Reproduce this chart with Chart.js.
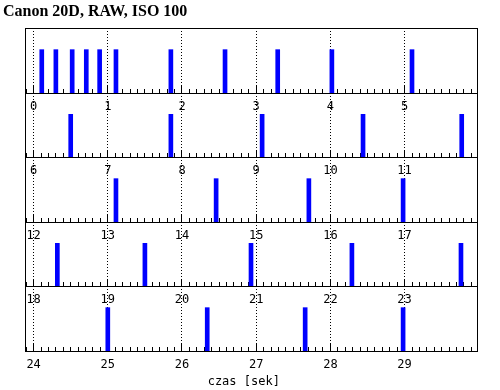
<!DOCTYPE html>
<html>
<head>
<meta charset="utf-8">
<script src="https://cdn.jsdelivr.net/npm/chart.js@4.4.1/dist/chart.umd.min.js"></script>
<style>
  html, body { margin: 0; padding: 0; background: #fff; }
  #wrap { position: relative; width: 500px; height: 390px; overflow: hidden; }
  #wrap canvas { position: absolute; left: 0; }
</style>
</head>
<body>
<div id="wrap"></div>
<script>
// seconds at which each frame was saved
const frameTimes = [
    0.11, 0.30, 0.52, 0.71, 0.89, 1.11, 1.85, 2.58, 3.29, 4.02, 5.10,
    6.50, 7.85, 9.08, 10.44, 11.77,
    13.11, 14.46, 15.71, 16.98,
    18.32, 19.50, 20.93, 22.29, 23.76,
    25.00, 26.34, 27.66, 28.98
];
const markHeight = 1;                  // all marks are the same height
const rowStarts = [0, 6, 12, 18, 24];  // first second of each strip
const titleText = "Canon 20D, RAW, ISO 100";
const axisTitle = "czas [sek]";

// layout
const W = 500, H = 390;
const plotTop = 28, rowH = 64.6;
const leftW = 25, rightW = 23;
const xRange = [-0.116, 5.976];   // visible window relative to row start
const labelH = 24;

const isWhole = v => Math.abs(v - Math.round(v)) < 1e-6;
const monoFont = { family: "'DejaVu Sans Mono', monospace", size: 12 };

// taller solid tick at every whole second
const majorTicks = {
    id: "majorTicks",
    beforeDatasetsDraw(chart) {
        const sc = chart.scales.x, ctx = chart.ctx;
        ctx.save();
        ctx.strokeStyle = "#000";
        ctx.lineWidth = 1;
        sc.ticks.forEach(t => {
            if (!isWhole(t.value)) return;
            const px = Math.round(sc.getPixelForValue(t.value) - 0.5) + 0.5;
            ctx.beginPath();
            ctx.moveTo(px, sc.top);
            ctx.lineTo(px, sc.top - 7);
            ctx.stroke();
        });
        ctx.restore();
    }
};

function makeRow(i) {
    const start = rowStarts[i];
    const first = i === 0, last = i === rowStarts.length - 1;
    const top = Math.round(plotTop + i * rowH);
    const bottom = Math.round(plotTop + (i + 1) * rowH);
    const canvasTop = first ? 0 : top;
    const axisH = last ? H - bottom : labelH;

    const cv = document.createElement("canvas");
    cv.width = W;
    cv.height = bottom - canvasTop + axisH;
    cv.style.top = canvasTop + "px";
    document.getElementById("wrap").appendChild(cv);

    const points = frameTimes
        .filter(t => t >= start && t < start + 6)
        .map(t => ({ x: t, y: markHeight }));

    const scales = {
        x: {
            type: "linear",
            position: "bottom",
            offset: false,
            min: start + xRange[0],
            max: start + xRange[1],
            afterFit: s => { s.height = axisH; },
            ticks: {
                stepSize: 0.1,
                includeBounds: false,
                autoSkip: false,
                maxRotation: 0,
                padding: 11,
                color: "#000",
                font: monoFont,
                callback: v => isWhole(v) ? String(Math.round(v)) : ""
            },
            grid: {
                offset: false,
                lineWidth: 1,
                color: c => (c.tick && isWhole(c.tick.value)) ? "#000" : "rgba(0,0,0,0)",
                tickColor: "#000",
                tickWidth: 1,
                tickLength: -4
            },
            border: { color: "#000", width: 1, dash: [1, 2] },
            title: last ? {
                display: true,
                text: axisTitle + "  ",
                color: "#000",
                font: monoFont,
                padding: { top: 0, bottom: 1 }
            } : { display: false }
        },
        y: {
            type: "linear",
            position: "left",
            min: 0,
            max: 1.5,
            afterFit: s => { s.width = first ? leftW - 3 : leftW; },
            ticks: { display: false },
            grid: { display: false },
            border: { color: "#000", width: 1 }
        },
        y2: {
            type: "linear",
            position: "right",
            afterFit: s => { s.width = rightW; },
            ticks: { display: false },
            grid: { display: false },
            border: { color: "#000", width: 1 }
        }
    };
    if (first) {
        scales.xt = {
            type: "linear",
            position: "top",
            afterFit: s => { s.height = 0; },
            ticks: { display: false },
            grid: { display: false },
            border: { color: "#000", width: 1 }
        };
    }

    return new Chart(cv.getContext("2d"), {
        type: "bar",
        data: {
            datasets: [{
                data: points,
                xAxisID: "x",
                yAxisID: "y",
                backgroundColor: "#0000ff",
                borderWidth: 0,
                barThickness: 4
            }]
        },
        options: {
            responsive: false,
            animation: false,
            events: [],
            layout: { padding: { left: first ? 3 : 0, right: 0, top: 0, bottom: 0 } },
            scales: scales,
            plugins: {
                legend: { display: false },
                tooltip: { enabled: false },
                title: {
                    display: first,
                    text: titleText,
                    align: "start",
                    color: "#000",
                    font: { family: "'Liberation Serif', serif", size: 16, weight: "bold" },
                    padding: { top: 2.4, bottom: 6.4 }
                }
            }
        },
        plugins: [majorTicks]
    });
}

rowStarts.forEach((_, i) => makeRow(i));
</script>
</body>
</html>
